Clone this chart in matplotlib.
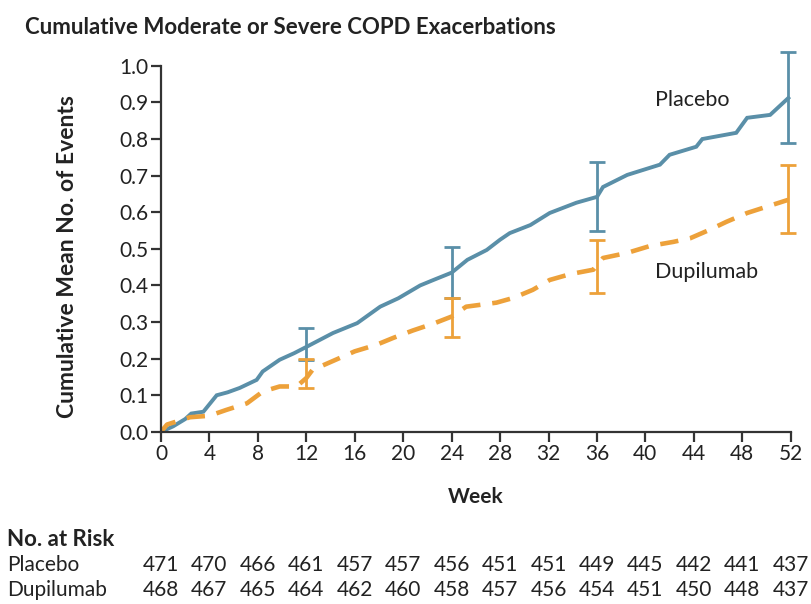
import matplotlib
matplotlib.use("Agg")
import matplotlib.pyplot as plt
import matplotlib.transforms as mtransforms
import numpy as np

plt.rcParams['font.family'] = ['Lato', 'DejaVu Sans']

# Placebo cumulative mean curve
placebo_week = [0, 1, 2, 2.5, 3.5, 4.6, 5.5, 6.5, 7.9, 8.4, 9.8, 11, 12, 14.2, 16.2, 18.1,
                19.6, 21.4, 22.5, 24, 25.3, 26.9, 28, 28.8, 30.5, 32.1, 34.3, 36, 36.5,
                38.5, 41.2, 42, 44.2, 44.7, 47.5, 48.4, 50.3, 51.8]
placebo_val = [0, 0.015, 0.035, 0.05, 0.055, 0.10, 0.108, 0.12, 0.142, 0.165, 0.197, 0.215,
               0.232, 0.27, 0.297, 0.342, 0.365, 0.40, 0.415, 0.435, 0.47, 0.497, 0.525,
               0.543, 0.565, 0.598, 0.626, 0.642, 0.669, 0.702, 0.73, 0.757, 0.779, 0.80,
               0.817, 0.858, 0.866, 0.912]

# Dupilumab cumulative mean curve
dupi_week = [0, 0.5, 2.4, 4, 5.4, 7.1, 8.4, 9.8, 11.2, 12, 12.5, 14.5, 16, 17.8, 19.2, 20.8,
             22.6, 24, 25.2, 27.7, 29.1, 30.7, 32.1, 33.8, 35.7, 36.5, 38.5, 40.4, 42.3,
             43.7, 45.3, 46.7, 48.4, 50, 51.8]
dupi_val = [0, 0.02, 0.04, 0.044, 0.06, 0.078, 0.11, 0.124, 0.124, 0.147, 0.169, 0.198, 0.22,
            0.238, 0.257, 0.277, 0.297, 0.315, 0.342, 0.353, 0.366, 0.388, 0.415, 0.431,
            0.443, 0.475, 0.489, 0.508, 0.519, 0.529, 0.552, 0.574, 0.598, 0.615, 0.634]

# 95% CI bars
ci_week = [12, 24, 36, 51.8]
placebo_ci_mid = [0.232, 0.435, 0.642, 0.912]
placebo_ci_lo = [0.195, 0.367, 0.549, 0.79]
placebo_ci_hi = [0.283, 0.505, 0.737, 1.038]
dupi_ci_mid = [0.147, 0.315, 0.45, 0.634]
dupi_ci_lo = [0.12, 0.26, 0.38, 0.544]
dupi_ci_hi = [0.198, 0.367, 0.525, 0.73]

# Numbers at risk
risk_week = [0, 4, 8, 12, 16, 20, 24, 28, 32, 36, 40, 44, 48, 52]
placebo_risk = [471, 470, 466, 461, 457, 457, 456, 451, 451, 449, 445, 442, 441, 437]
dupi_risk = [468, 467, 465, 464, 462, 460, 458, 457, 456, 454, 451, 450, 448, 437]

blue = '#5a8fa8'
orange = '#eda13a'
axis_col = '#333333'
text_col = '#222222'

fig = plt.figure(figsize=(8.11, 6.04), dpi=100)
ax = fig.add_axes([0.1985, 0.285, 0.7765, 0.606])

ax.plot(placebo_week, placebo_val, color=blue, lw=2.8, solid_joinstyle='miter')
ax.plot(dupi_week, dupi_val, color=orange, lw=3.3, dashes=(4, 2.6))

for mid, lo, hi, col in [(placebo_ci_mid, placebo_ci_lo, placebo_ci_hi, blue),
                         (dupi_ci_mid, dupi_ci_lo, dupi_ci_hi, orange)]:
    mid = np.array(mid)
    err = [mid - np.array(lo), np.array(hi) - mid]
    eb = ax.errorbar(ci_week, mid, yerr=err, fmt='none', ecolor=col, elinewidth=2,
                     capsize=6, capthick=2)
    for art in eb.lines[1] + eb.lines[2]:
        art.set_clip_on(False)

ax.text(40.8, 0.907, 'Placebo', fontsize=15.5, color=text_col, va='center')
ax.text(40.8, 0.437, 'Dupilumab', fontsize=15.5, color=text_col, va='center')

ax.set_xlim(0, 52)
ax.set_ylim(0, 1.0)
ax.set_xticks(risk_week)
ax.set_yticks(np.arange(0, 1.01, 0.1))
ax.yaxis.set_major_formatter(matplotlib.ticker.FormatStrFormatter('%.1f'))
for side in ['top', 'right']:
    ax.spines[side].set_visible(False)
for side in ['left', 'bottom']:
    ax.spines[side].set_color(axis_col)
    ax.spines[side].set_linewidth(1.6)
ax.tick_params(direction='out', length=7, width=1.6, color=axis_col, labelsize=15,
               labelcolor=text_col, pad=2)

ax.set_xlabel('Week', fontsize=15, fontweight='bold', color=text_col)
ax.xaxis.set_label_coords(0.5, -0.15)
ax.set_ylabel('Cumulative Mean No. of Events', fontsize=16.5, fontweight='bold',
              color=text_col, va='center')
ax.yaxis.set_label_coords(-0.149, 0.48)

fig.text(0.031, 0.954, 'Cumulative Moderate or Severe COPD Exacerbations', fontsize=16,
         fontweight='bold', color=text_col, va='center')

# No. at risk table
trans = mtransforms.blended_transform_factory(ax.transData, fig.transFigure)
fig.text(0.009, 0.106, 'No. at Risk', fontsize=16, fontweight='bold', color=text_col,
         va='center')
fig.text(0.009, 0.064, 'Placebo', fontsize=15, color=text_col, va='center')
fig.text(0.009, 0.023, 'Dupilumab', fontsize=15, color=text_col, va='center')
for w, p, d in zip(risk_week, placebo_risk, dupi_risk):
    ax.text(w, 0.064, str(p), transform=trans, fontsize=15, color=text_col,
            ha='center', va='center')
    ax.text(w, 0.023, str(d), transform=trans, fontsize=15, color=text_col,
            ha='center', va='center')

fig.savefig('out.png', dpi=100)
